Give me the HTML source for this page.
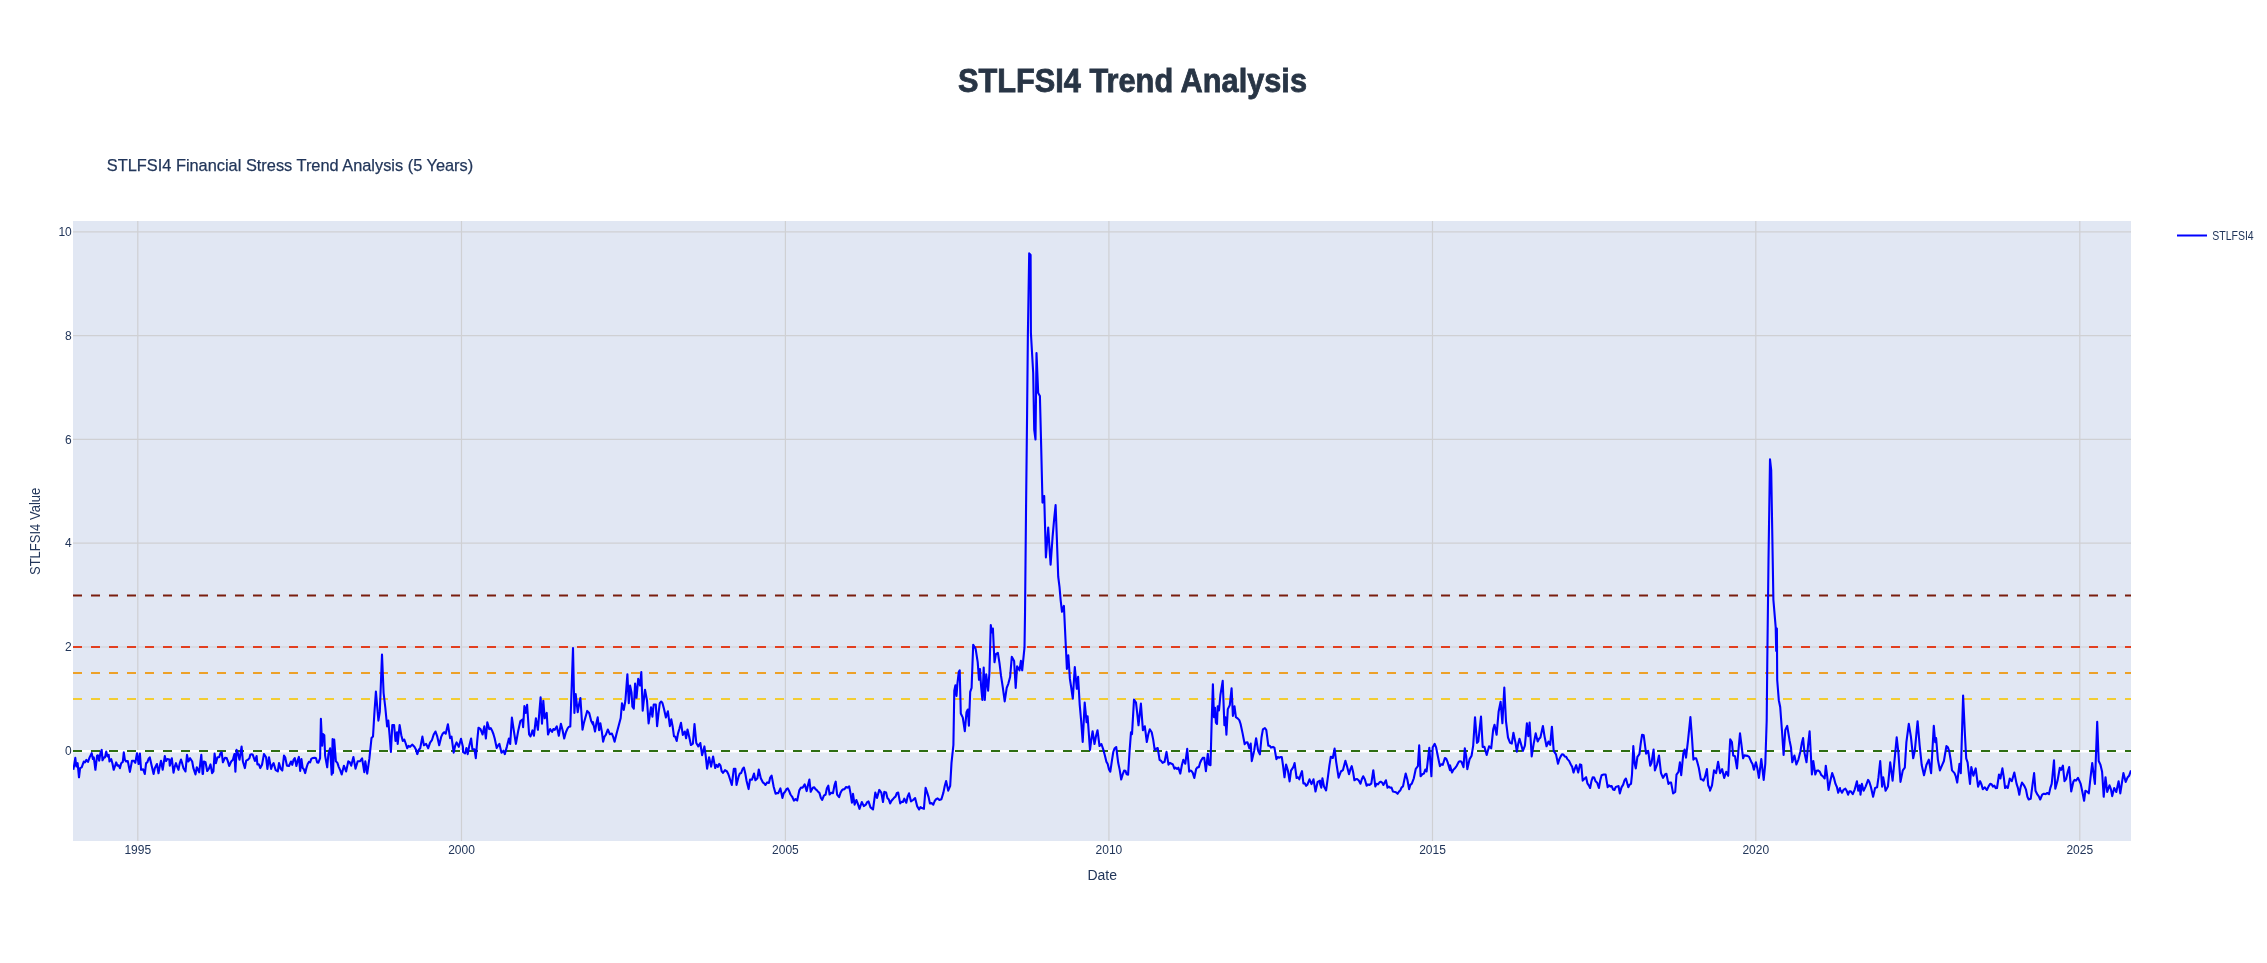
<!DOCTYPE html>
<html><head><meta charset="utf-8"><title>STLFSI4 Trend Analysis</title>
<style>
html,body{margin:0;padding:0;background:#ffffff;}
body{width:2267px;height:963px;overflow:hidden;}
svg{display:block;font-family:"Liberation Sans", sans-serif;will-change:transform;}
</style></head>
<body>
<svg width="2267" height="963" viewBox="0 0 2267 963">
<rect x="73" y="221" width="2058" height="620" fill="#E1E7F3"/>
<line x1="137.8" y1="221" x2="137.8" y2="841" stroke="#cfd0d3" stroke-width="1.2"/>
<line x1="461.5" y1="221" x2="461.5" y2="841" stroke="#cfd0d3" stroke-width="1.2"/>
<line x1="785.4" y1="221" x2="785.4" y2="841" stroke="#cfd0d3" stroke-width="1.2"/>
<line x1="1108.9" y1="221" x2="1108.9" y2="841" stroke="#cfd0d3" stroke-width="1.2"/>
<line x1="1432.5" y1="221" x2="1432.5" y2="841" stroke="#cfd0d3" stroke-width="1.2"/>
<line x1="1755.8" y1="221" x2="1755.8" y2="841" stroke="#cfd0d3" stroke-width="1.2"/>
<line x1="2079.8" y1="221" x2="2079.8" y2="841" stroke="#cfd0d3" stroke-width="1.2"/>
<line x1="73" y1="647.0" x2="2131" y2="647.0" stroke="#cfd0d3" stroke-width="1.2"/>
<line x1="73" y1="543.2" x2="2131" y2="543.2" stroke="#cfd0d3" stroke-width="1.2"/>
<line x1="73" y1="439.4" x2="2131" y2="439.4" stroke="#cfd0d3" stroke-width="1.2"/>
<line x1="73" y1="335.6" x2="2131" y2="335.6" stroke="#cfd0d3" stroke-width="1.2"/>
<line x1="73" y1="231.8" x2="2131" y2="231.8" stroke="#cfd0d3" stroke-width="1.2"/>
<line x1="73" y1="751.2" x2="2131" y2="751.2" stroke="#ffffff" stroke-width="2.4"/>
<line x1="73" y1="595.5" x2="2131" y2="595.5" stroke="#7a1e0e" stroke-width="2" stroke-dasharray="9,9"/>
<line x1="73" y1="647.0" x2="2131" y2="647.0" stroke="#e23f1f" stroke-width="2" stroke-dasharray="9,9"/>
<line x1="73" y1="672.9" x2="2131" y2="672.9" stroke="#eda128" stroke-width="2" stroke-dasharray="9,9"/>
<line x1="73" y1="698.9" x2="2131" y2="698.9" stroke="#f3cd32" stroke-width="2" stroke-dasharray="9,9"/>
<line x1="73" y1="751.1" x2="2131" y2="751.1" stroke="#2e6e12" stroke-width="2" stroke-dasharray="9,9"/>
<clipPath id="cp"><rect x="73" y="221" width="2058" height="620"/></clipPath>
<polyline clip-path="url(#cp)" points="73.3,769.8 73.8,767.3 75.3,757.8 76.3,766.5 77.6,763.2 79.0,777.3 80.1,768.2 81.7,767.3 83.8,761.5 85.0,762.4 86.3,759.9 88.0,761.9 89.6,757.4 91.7,753.2 92.9,759.0 93.8,757.4 95.4,769.8 97.1,755.7 97.9,755.3 99.2,760.7 100.4,753.2 101.7,749.9 102.5,760.3 104.1,757.4 105.0,757.4 106.2,751.6 107.5,756.5 108.7,754.9 109.5,761.5 111.2,759.0 112.5,763.8 113.7,769.8 114.9,766.5 116.2,762.4 117.4,765.7 118.7,765.3 119.9,768.2 121.2,763.2 122.8,761.9 123.8,752.4 124.9,759.9 126.2,761.5 127.8,761.1 129.9,771.9 132.0,760.7 133.6,760.7 135.3,762.8 137.0,753.2 138.6,764.0 139.9,753.6 141.1,769.8 143.2,769.4 144.8,774.0 146.1,763.2 147.3,762.4 148.6,758.8 149.8,757.4 151.5,764.9 153.6,774.0 154.8,768.2 156.9,764.0 158.5,773.2 159.8,766.1 161.0,760.7 162.7,769.8 164.8,756.1 166.0,761.1 167.3,759.0 169.3,759.5 169.8,765.7 171.8,758.2 173.5,772.7 174.7,766.8 176.0,763.2 177.2,766.9 178.5,769.8 179.7,763.4 181.0,759.5 182.2,763.4 183.5,768.2 185.5,771.5 187.0,754.9 188.4,761.5 190.1,758.2 192.2,761.5 193.4,768.2 195.5,774.4 196.8,767.3 198.0,769.5 199.2,772.3 201.3,754.9 202.6,774.0 203.0,773.9 203.8,761.5 205.5,762.3 207.2,771.0 208.8,768.9 210.5,764.4 212.1,773.1 213.4,771.4 214.6,753.6 215.9,763.1 217.5,757.3 219.2,757.3 220.4,753.3 221.7,752.3 222.9,762.3 225.0,757.7 226.7,758.1 227.9,761.4 229.2,766.0 231.2,761.5 232.9,759.8 234.4,754.0 235.4,771.8 236.6,749.8 237.9,753.2 239.5,759.8 241.6,746.5 242.9,761.5 244.9,768.1 246.2,760.6 247.9,759.8 249.5,758.1 250.3,754.8 251.6,754.2 252.8,754.8 254.9,761.0 256.6,756.1 257.4,764.4 258.9,764.4 260.3,768.1 262.0,764.8 264.0,754.0 266.1,757.3 267.4,768.9 269.0,757.3 271.1,768.9 272.4,765.0 273.6,763.1 275.7,770.2 277.8,771.4 279.0,763.1 280.7,768.9 282.3,770.6 284.0,755.6 285.2,757.3 286.9,765.6 289.0,766.0 291.0,761.5 292.3,764.8 293.5,759.9 294.8,758.1 296.4,766.0 297.7,760.4 298.9,756.9 300.2,771.0 301.4,759.0 302.7,768.1 303.9,769.3 305.2,773.1 306.4,768.0 307.7,764.0 308.9,761.9 310.1,762.3 311.4,758.6 312.6,758.1 314.7,757.7 316.0,758.3 317.2,762.5 318.4,762.7 320.1,758.1 320.9,718.7 322.2,745.7 323.0,734.1 324.3,735.3 325.1,755.6 327.2,767.3 328.4,754.0 330.1,748.2 331.7,774.8 332.6,739.0 333.0,773.0 334.2,739.5 335.9,761.3 337.4,762.9 338.8,767.1 340.3,770.4 341.7,774.4 343.9,765.7 346.1,771.5 348.3,761.3 349.7,762.1 351.2,765.7 353.4,757.0 355.5,768.6 357.7,761.3 359.9,761.3 362.1,758.4 364.3,772.2 365.3,761.3 367.2,773.7 369.4,758.4 371.5,738.1 373.0,736.6 374.4,712.9 375.9,691.5 378.4,720.6 379.8,711.9 382.0,654.5 383.6,693.0 385.3,707.5 387.1,726.4 388.3,720.6 389.6,735.5 390.9,751.9 392.3,725.0 394.1,725.0 395.5,741.0 397.0,732.2 397.7,743.9 399.6,725.0 401.3,735.2 402.8,741.0 404.3,739.5 405.7,743.5 407.2,748.2 408.6,745.9 410.1,746.8 412.2,744.6 414.4,746.8 415.9,749.4 417.3,754.1 418.8,749.8 420.2,748.2 422.4,736.6 423.9,745.3 426.1,743.9 428.2,748.2 430.1,742.6 431.9,740.2 433.7,734.5 435.5,731.5 437.3,736.7 439.2,745.3 441.3,736.6 442.8,733.5 444.2,732.2 445.7,733.7 447.9,724.2 450.1,738.1 451.5,736.6 453.7,752.6 455.1,746.0 456.6,742.4 458.8,746.8 461.0,738.8 462.9,746.8 463.0,752.0 465.0,753.4 466.4,748.0 467.7,754.1 469.4,745.3 471.1,738.5 472.4,749.3 474.5,749.3 475.8,758.1 477.2,741.2 478.5,727.7 480.5,729.1 482.6,734.5 484.3,726.4 485.9,738.5 487.3,722.3 489.3,729.1 490.7,728.1 492.0,730.4 493.4,734.0 494.7,738.5 496.7,748.0 498.1,745.5 499.4,743.9 501.5,752.7 503.5,750.7 504.8,754.1 506.9,746.6 508.9,738.5 510.2,743.9 511.9,717.6 514.0,731.8 515.9,743.9 518.3,730.4 520.4,721.0 522.4,719.6 523.1,727.1 524.4,706.1 525.8,712.9 527.1,704.8 529.1,734.5 530.5,736.5 532.5,730.4 533.9,735.8 535.9,718.3 537.9,729.8 539.3,712.9 540.6,697.4 542.0,723.7 543.3,700.7 544.7,718.3 546.7,712.9 548.0,734.5 550.1,729.1 552.1,731.8 553.4,729.0 554.8,729.8 556.8,726.4 558.8,735.8 560.9,723.7 562.6,730.2 564.2,738.5 565.9,732.2 567.6,728.4 569.0,726.7 570.3,726.4 571.7,686.2 573.0,648.1 574.4,712.9 575.7,694.0 577.7,712.2 579.1,704.3 580.4,698.0 582.5,729.8 583.8,723.2 585.2,718.3 587.2,710.9 589.2,712.9 591.2,721.0 593.0,724.4 593.0,722.1 595.0,731.5 596.4,723.3 597.7,717.4 599.1,730.2 600.4,723.4 601.8,731.4 603.1,741.7 604.5,736.6 605.8,734.9 607.8,729.5 609.9,734.2 611.9,733.6 613.2,736.9 614.6,741.7 616.6,733.6 618.6,726.1 620.7,718.0 622.0,703.2 623.8,709.9 625.4,700.5 627.4,674.2 628.8,703.2 630.1,685.6 631.5,692.4 632.4,706.6 633.8,708.6 635.1,683.6 636.5,697.8 638.2,678.9 640.0,685.6 641.3,672.1 642.7,710.6 645.0,689.7 647.0,700.5 648.6,723.4 651.0,707.2 652.4,716.7 653.7,704.5 655.8,704.5 657.1,726.1 658.5,713.3 659.8,703.2 661.2,701.5 662.5,703.2 663.9,708.6 665.9,717.4 667.9,711.3 669.9,726.1 671.3,719.4 672.6,726.2 674.0,736.3 675.3,736.8 676.7,741.0 678.0,733.6 679.4,728.8 681.0,722.8 682.8,734.9 684.8,731.5 686.1,738.3 687.5,729.5 689.2,736.7 690.9,745.0 692.9,743.7 694.5,724.1 696.3,743.0 698.3,746.4 700.3,743.0 702.1,755.2 704.4,746.4 705.7,755.9 707.1,768.7 709.1,757.2 711.1,766.6 713.1,756.5 715.2,768.0 716.5,764.9 717.9,766.9 719.2,763.9 720.5,765.7 721.7,771.2 723.0,772.7 723.0,772.9 725.0,770.2 727.0,771.5 728.4,774.3 729.7,778.3 731.8,785.0 733.8,768.8 735.4,768.8 736.5,785.0 738.5,776.9 739.9,773.4 741.2,772.9 742.6,769.0 743.9,767.5 745.3,773.5 746.6,781.0 748.6,789.1 750.0,779.6 752.0,779.6 754.0,773.6 755.4,780.3 757.4,778.3 758.8,769.5 760.8,778.3 762.8,782.3 764.2,783.3 765.5,785.0 767.2,782.4 768.9,783.0 770.2,777.5 771.6,775.6 773.6,786.4 775.6,793.8 777.0,793.0 778.3,793.1 780.4,788.4 782.4,797.9 783.7,793.3 785.1,791.8 786.4,789.2 787.8,788.4 789.1,790.9 790.5,794.5 792.2,796.8 793.9,800.6 795.6,799.1 797.2,800.6 799.3,790.4 801.0,787.5 802.6,787.7 804.7,784.4 806.7,791.1 808.0,785.0 809.4,779.6 810.7,791.8 812.8,787.7 814.1,787.2 815.5,789.1 816.8,790.1 818.2,791.8 819.5,793.1 820.9,798.0 822.2,799.9 823.9,795.6 825.6,794.5 826.9,788.3 828.3,785.7 829.6,794.5 831.3,792.8 833.0,793.1 834.4,785.6 835.7,781.7 837.1,794.5 839.1,797.2 840.4,793.1 841.8,790.4 843.1,789.4 844.5,789.1 846.1,787.0 847.6,787.6 849.2,786.4 850.6,793.9 851.9,802.6 853.0,799.9 853.0,793.9 854.6,804.7 856.4,800.0 857.7,803.4 859.5,808.8 861.8,802.0 863.8,806.1 865.8,804.7 867.2,802.1 868.5,801.4 870.5,807.4 873.0,809.5 875.3,792.6 877.0,798.0 879.3,789.9 881.3,792.6 883.0,802.0 884.3,791.9 886.1,792.6 887.4,798.0 888.8,799.5 890.1,803.4 891.5,800.8 892.8,799.3 894.2,797.6 895.5,796.6 896.9,793.0 898.2,792.6 900.2,803.4 901.6,801.9 902.9,802.0 904.3,798.7 906.3,802.7 907.7,796.3 909.0,793.3 911.0,801.4 913.1,800.0 915.1,798.0 917.1,806.1 919.1,809.5 920.5,807.1 921.8,808.1 923.9,808.8 925.6,787.9 927.2,792.6 928.6,797.1 929.9,803.4 931.6,803.1 933.3,804.7 934.7,801.0 936.0,799.3 937.7,798.4 939.4,800.0 941.4,799.3 943.4,792.6 944.8,785.7 946.1,781.1 948.2,790.6 950.2,785.8 951.5,762.9 953.4,745.0 954.3,690.6 955.4,685.2 956.5,696.0 957.4,683.8 958.8,671.7 959.7,670.3 960.8,713.5 962.8,717.6 964.8,731.1 966.5,712.2 967.8,709.5 968.9,725.7 970.2,691.9 971.6,687.9 973.2,644.7 975.6,648.7 977.7,662.2 979.0,679.8 980.0,669.0 981.0,685.2 982.4,700.0 983.7,667.6 984.8,700.0 986.2,674.4 988.1,690.6 989.4,673.0 990.8,625.1 991.8,632.5 992.9,628.5 994.5,662.2 995.9,654.1 997.9,652.8 999.5,663.1 1001.0,675.7 1002.8,687.3 1004.7,701.4 1006.7,687.9 1008.3,683.8 1010.1,677.1 1011.8,656.8 1014.1,660.9 1015.7,687.9 1017.1,666.3 1019.5,670.3 1020.9,660.9 1022.2,670.3 1024.5,647.4 1025.0,615.0 1026.0,512.6 1027.1,412.9 1027.9,333.0 1029.2,253.3 1030.6,255.0 1030.9,333.0 1033.2,373.0 1034.2,429.5 1035.5,439.5 1036.5,353.0 1038.2,393.0 1039.9,396.0 1041.2,447.6 1042.5,502.6 1044.2,496.0 1045.9,557.5 1048.2,527.6 1050.6,564.8 1052.6,536.6 1054.1,519.7 1055.6,505.0 1056.9,539.8 1058.2,576.5 1059.5,586.9 1060.7,600.7 1062.0,611.8 1063.9,605.9 1065.5,639.5 1066.9,669.0 1068.3,655.2 1069.9,678.9 1071.3,688.0 1072.8,698.6 1074.8,667.1 1076.8,688.8 1078.1,676.9 1079.7,704.6 1081.2,721.5 1082.7,742.0 1084.7,702.6 1086.6,722.3 1087.6,716.4 1090.0,749.9 1091.3,739.5 1092.6,731.2 1094.5,744.0 1096.0,736.0 1097.5,730.2 1099.5,746.0 1101.4,744.0 1103.4,749.9 1104.9,755.5 1106.4,761.8 1107.7,764.1 1109.0,769.5 1110.3,771.6 1111.8,761.4 1113.3,751.9 1114.7,748.2 1116.2,747.0 1118.2,762.8 1119.7,769.9 1121.2,779.5 1122.6,774.7 1124.1,770.6 1125.4,770.7 1126.7,774.3 1128.1,774.6 1129.5,752.1 1131.0,732.2 1132.0,734.1 1134.0,699.6 1136.0,702.6 1137.2,713.1 1138.5,725.3 1140.9,703.6 1142.9,730.2 1144.8,726.3 1146.8,742.0 1148.3,734.3 1149.8,729.2 1151.7,732.2 1153.2,739.6 1154.7,749.9 1156.2,748.6 1157.7,748.0 1159.6,759.8 1161.1,760.9 1162.6,762.8 1164.6,761.8 1166.5,751.9 1168.5,764.7 1170.0,762.9 1171.5,763.7 1172.9,764.5 1174.4,768.7 1175.7,767.7 1177.1,769.0 1178.4,767.7 1180.3,773.6 1181.8,765.5 1183.3,759.8 1185.3,763.7 1187.2,748.9 1189.2,771.6 1190.0,770.6 1191.3,770.8 1192.7,772.6 1194.3,778.0 1196.1,769.2 1197.4,767.4 1198.8,767.2 1200.1,762.7 1201.5,759.8 1202.8,757.9 1204.2,757.7 1205.9,771.2 1207.8,753.7 1208.9,764.5 1210.5,765.2 1211.6,724.0 1212.9,684.2 1214.0,717.2 1215.0,707.8 1215.9,722.6 1217.0,724.0 1217.7,706.4 1219.0,710.5 1220.4,695.0 1222.7,680.8 1224.4,725.3 1225.4,717.2 1226.4,734.8 1227.8,709.1 1229.8,705.1 1231.6,688.2 1232.9,715.9 1234.5,706.4 1235.9,717.2 1237.9,718.6 1239.3,720.1 1240.6,724.0 1242.6,733.4 1244.7,744.2 1246.0,742.5 1247.4,742.2 1249.4,748.3 1250.7,743.6 1251.8,761.1 1254.1,751.0 1256.1,738.2 1258.2,751.0 1259.9,754.4 1261.5,737.5 1262.9,729.4 1264.9,728.0 1266.3,730.1 1268.3,745.6 1269.6,745.7 1271.0,747.6 1273.0,746.9 1274.4,747.6 1276.4,759.1 1277.7,757.0 1279.1,757.7 1280.4,757.1 1281.8,757.1 1283.1,766.0 1284.5,777.3 1286.1,764.5 1287.9,770.6 1289.6,781.4 1291.0,770.6 1293.3,767.2 1294.6,763.1 1296.6,778.0 1298.0,777.3 1299.3,779.3 1300.7,774.5 1302.0,771.2 1303.4,783.4 1304.7,783.2 1306.1,785.8 1307.4,784.7 1309.5,779.3 1311.5,784.1 1313.5,779.3 1315.5,791.5 1317.6,782.0 1320.0,780.7 1320.0,783.7 1321.3,787.7 1322.4,778.3 1324.0,786.4 1326.1,790.4 1328.1,775.6 1329.4,765.5 1330.8,756.7 1332.8,758.0 1334.6,748.6 1336.2,762.1 1338.6,777.6 1340.9,771.5 1342.9,770.2 1345.4,760.7 1347.2,766.9 1349.0,774.2 1350.4,769.2 1351.7,766.1 1353.1,771.9 1354.4,780.3 1355.8,779.2 1357.1,779.0 1358.8,780.5 1360.5,783.7 1361.8,779.2 1363.2,776.3 1364.9,779.4 1366.6,785.7 1367.9,784.4 1369.3,785.0 1371.3,783.7 1373.3,770.2 1375.3,786.4 1376.7,783.8 1378.0,784.4 1379.4,782.5 1380.7,781.7 1382.1,782.6 1383.4,785.0 1385.9,780.3 1387.5,787.7 1388.8,786.5 1390.2,787.7 1391.5,787.5 1392.9,791.4 1394.2,791.8 1395.9,792.2 1397.6,793.8 1399.0,791.6 1400.3,790.4 1401.7,787.3 1403.0,786.4 1404.4,779.4 1405.7,773.6 1407.4,779.8 1409.1,789.1 1410.4,784.8 1411.8,783.7 1413.8,778.3 1415.8,768.8 1417.9,766.1 1419.2,745.2 1420.6,776.3 1422.3,774.3 1423.9,773.6 1425.3,769.5 1426.6,771.5 1428.0,759.0 1429.3,747.9 1431.4,776.3 1432.7,747.2 1434.7,743.9 1436.1,747.4 1437.4,754.0 1439.9,766.1 1441.4,764.2 1442.8,764.8 1444.9,758.0 1446.2,758.6 1447.6,762.1 1450.0,770.2 1450.0,765.2 1452.0,772.6 1453.4,769.7 1454.7,768.5 1456.7,765.8 1458.8,761.8 1460.1,761.3 1461.5,761.8 1463.5,767.2 1464.8,748.3 1466.2,756.4 1467.3,769.2 1469.6,759.1 1471.6,755.7 1473.2,745.6 1475.0,717.2 1477.0,742.9 1478.3,741.5 1479.7,728.3 1481.0,716.6 1482.7,746.9 1484.4,746.9 1486.7,755.0 1489.1,746.3 1491.2,748.3 1493.2,729.4 1494.5,724.7 1496.6,734.8 1498.6,711.8 1500.6,701.7 1502.4,723.3 1504.3,687.5 1506.0,721.3 1508.0,737.5 1510.1,742.9 1511.8,743.6 1513.4,732.8 1515.5,742.9 1516.8,751.7 1518.2,743.8 1519.5,738.8 1520.9,743.6 1522.9,751.0 1524.9,745.6 1526.9,723.3 1528.3,736.1 1529.6,722.6 1531.7,756.4 1533.7,743.6 1535.7,733.4 1537.7,741.5 1539.1,738.8 1540.4,737.5 1542.9,726.0 1544.5,736.1 1546.5,746.3 1548.5,741.5 1550.2,744.9 1551.9,726.7 1553.7,751.0 1556.0,754.4 1558.0,763.8 1559.3,759.3 1560.7,756.4 1562.0,754.4 1563.4,754.5 1564.7,756.4 1566.1,756.8 1567.4,759.1 1569.1,760.9 1570.8,764.5 1572.2,766.9 1573.5,772.6 1574.9,768.3 1576.2,765.2 1578.2,772.6 1580.0,764.5 1580.0,764.4 1581.3,765.0 1582.7,780.6 1584.7,778.5 1586.1,777.2 1587.4,783.3 1588.8,785.3 1590.1,788.0 1591.5,780.9 1592.8,777.2 1594.2,777.6 1595.5,781.2 1597.2,782.8 1598.9,788.0 1600.2,780.6 1601.6,775.2 1603.6,774.5 1605.6,774.5 1607.7,787.3 1609.0,785.3 1610.4,786.6 1611.7,786.1 1613.1,789.5 1614.4,790.0 1615.8,786.9 1617.1,786.6 1618.5,786.0 1619.8,793.4 1621.5,787.4 1623.2,784.6 1624.5,780.3 1625.9,778.5 1628.3,787.3 1629.7,784.6 1631.0,783.9 1632.0,774.5 1633.3,746.1 1634.7,763.7 1635.8,768.4 1637.4,756.9 1639.4,754.2 1640.7,743.7 1642.1,734.7 1643.7,735.3 1646.1,753.6 1648.2,750.9 1650.2,765.7 1651.5,763.0 1653.6,749.5 1654.9,770.4 1656.9,765.0 1659.0,755.6 1661.0,773.1 1663.0,777.9 1665.0,774.5 1666.4,773.8 1668.4,783.9 1669.8,782.6 1671.1,782.6 1673.1,793.4 1675.2,792.0 1676.5,774.5 1678.5,771.8 1679.9,762.3 1681.2,775.2 1683.3,753.6 1684.6,749.5 1686.0,757.6 1688.0,740.7 1690.4,717.1 1692.0,738.0 1693.4,759.6 1694.7,758.2 1696.1,758.3 1697.4,762.4 1698.8,767.7 1700.8,779.2 1702.2,779.5 1703.5,780.6 1704.9,777.2 1706.9,769.1 1708.2,785.3 1710.0,789.3 1710.0,790.7 1712.0,785.3 1714.0,770.4 1716.1,773.1 1718.1,761.7 1720.1,773.1 1722.1,769.1 1724.2,777.9 1726.2,771.8 1728.2,775.8 1730.2,739.4 1731.9,742.1 1733.2,755.6 1735.0,756.3 1737.0,768.4 1738.5,749.7 1740.0,733.3 1741.5,745.1 1743.1,758.3 1744.4,755.4 1745.8,755.6 1747.5,755.9 1749.1,756.9 1751.2,761.7 1752.5,764.1 1753.9,769.8 1755.9,762.3 1757.4,768.8 1758.9,777.9 1761.3,759.0 1763.7,779.9 1765.3,763.7 1766.7,720.5 1767.3,660.0 1768.5,560.0 1770.0,459.4 1771.2,470.0 1773.4,600.0 1775.7,627.4 1776.2,651.0 1776.9,628.5 1777.2,680.0 1778.8,700.2 1780.2,707.0 1782.2,734.0 1783.6,754.9 1785.3,729.9 1787.2,725.9 1789.6,740.7 1791.0,747.5 1792.3,762.3 1794.4,755.6 1796.4,764.4 1798.4,759.6 1800.4,751.5 1801.8,743.1 1803.1,738.0 1804.5,752.9 1806.5,762.3 1808.1,745.2 1809.6,731.3 1811.9,774.5 1813.3,761.0 1815.3,774.5 1816.6,770.8 1818.0,770.4 1819.7,771.6 1821.4,775.2 1823.1,776.5 1824.7,778.5 1825.8,765.7 1827.2,776.4 1828.5,790.0 1830.3,781.0 1832.2,773.1 1833.9,777.8 1835.5,783.9 1836.9,787.0 1838.2,792.7 1840.0,788.0 1840.0,789.3 1842.0,792.7 1843.7,789.6 1845.4,788.7 1846.7,790.8 1848.1,794.7 1849.4,791.3 1850.8,791.4 1852.8,794.1 1854.8,789.3 1856.9,781.2 1858.2,790.7 1859.6,785.3 1860.5,794.7 1861.9,783.9 1863.6,790.7 1865.6,786.6 1868.1,779.9 1869.4,782.0 1870.8,786.6 1873.1,796.8 1875.1,788.0 1877.1,787.3 1878.5,777.2 1880.2,761.0 1882.1,786.6 1883.2,777.2 1885.6,790.7 1887.9,786.6 1890.2,762.3 1892.6,780.6 1894.7,758.3 1896.7,737.4 1898.3,751.5 1900.5,781.9 1902.8,770.4 1904.8,767.7 1906.4,742.1 1908.8,723.9 1910.9,736.7 1913.2,758.3 1914.9,750.2 1916.3,734.9 1917.6,721.2 1919.6,744.8 1921.7,765.0 1924.0,775.2 1926.4,765.0 1928.8,759.6 1931.1,773.1 1932.5,748.8 1933.8,725.9 1935.2,742.1 1936.1,738.0 1937.9,759.6 1939.9,770.4 1941.9,765.7 1943.9,761.0 1946.4,746.1 1947.9,747.3 1949.3,751.5 1950.7,760.0 1952.0,770.4 1954.5,773.1 1955.8,776.4 1957.2,782.6 1959.5,763.7 1960.8,773.1 1963.1,695.5 1964.9,734.0 1966.2,758.3 1967.6,762.3 1970.0,783.9 1970.0,783.9 1971.3,767.1 1973.4,775.8 1975.7,768.4 1978.1,786.6 1980.1,781.2 1981.5,784.5 1982.8,789.3 1984.8,787.3 1986.9,790.0 1988.6,786.4 1990.2,783.9 1991.6,784.2 1992.9,786.6 1994.3,785.6 1995.6,788.1 1997.0,788.0 1999.0,774.5 2000.4,778.5 2002.4,768.4 2003.7,776.7 2005.1,788.0 2006.4,786.3 2007.8,788.0 2009.8,778.5 2011.8,781.2 2014.3,772.5 2016.6,783.9 2017.9,787.8 2019.3,794.7 2020.6,787.1 2022.0,782.6 2023.3,784.3 2024.7,786.6 2026.0,789.7 2027.4,796.8 2028.7,799.5 2030.7,798.8 2032.4,785.6 2034.1,773.1 2035.5,790.7 2037.5,794.7 2038.8,796.4 2040.2,799.5 2042.2,794.7 2043.9,793.7 2045.6,794.1 2047.3,793.0 2049.0,794.1 2050.3,788.1 2051.7,783.9 2054.0,760.3 2055.3,788.7 2057.7,779.9 2059.8,767.7 2061.1,769.8 2062.9,765.7 2064.5,781.2 2066.1,779.2 2067.7,772.1 2069.2,767.1 2071.2,791.4 2073.3,781.9 2074.6,779.8 2076.0,780.6 2078.0,777.9 2079.3,780.6 2080.7,783.9 2082.4,792.0 2084.1,800.8 2085.4,790.7 2087.1,791.6 2088.8,793.4 2090.5,777.7 2092.2,763.0 2093.5,773.1 2094.9,783.9 2097.2,721.8 2098.7,761.0 2100.4,764.6 2102.1,771.8 2103.7,796.8 2105.5,777.2 2107.2,792.0 2109.5,785.3 2110.9,789.1 2112.2,796.1 2114.2,788.0 2116.3,792.0 2118.6,781.2 2120.3,793.4 2121.9,782.8 2123.4,773.1 2125.7,781.9 2127.7,777.2 2129.1,775.8 2131.0,770.4" fill="none" stroke="#0000ff" stroke-width="2.1" stroke-linejoin="round"/>
<text x="71.8" y="755.0" text-anchor="end" font-size="12" fill="#22365a">0</text>
<text x="71.8" y="651.2" text-anchor="end" font-size="12" fill="#22365a">2</text>
<text x="71.8" y="547.4" text-anchor="end" font-size="12" fill="#22365a">4</text>
<text x="71.8" y="443.6" text-anchor="end" font-size="12" fill="#22365a">6</text>
<text x="71.8" y="339.8" text-anchor="end" font-size="12" fill="#22365a">8</text>
<text x="71.8" y="236.0" text-anchor="end" font-size="12" fill="#22365a">10</text>
<text x="137.8" y="854.4" text-anchor="middle" font-size="12" fill="#22365a">1995</text>
<text x="461.5" y="854.4" text-anchor="middle" font-size="12" fill="#22365a">2000</text>
<text x="785.4" y="854.4" text-anchor="middle" font-size="12" fill="#22365a">2005</text>
<text x="1108.9" y="854.4" text-anchor="middle" font-size="12" fill="#22365a">2010</text>
<text x="1432.5" y="854.4" text-anchor="middle" font-size="12" fill="#22365a">2015</text>
<text x="1755.8" y="854.4" text-anchor="middle" font-size="12" fill="#22365a">2020</text>
<text x="2079.8" y="854.4" text-anchor="middle" font-size="12" fill="#22365a">2025</text>
<text x="1102.2" y="879.9" text-anchor="middle" font-size="14" fill="#22365a">Date</text>
<text transform="translate(39.7,531.4) rotate(-90)" x="0" y="0" text-anchor="middle" font-size="14" fill="#22365a" textLength="87.3" lengthAdjust="spacingAndGlyphs">STLFSI4 Value</text>
<text x="106.8" y="171" font-size="17" fill="#22365a" stroke="#22365a" stroke-width="0.25" textLength="366.4" lengthAdjust="spacingAndGlyphs">STLFSI4 Financial Stress Trend Analysis (5 Years)</text>
<line x1="2177" y1="235.5" x2="2207" y2="235.5" stroke="#0000ff" stroke-width="2"/>
<text x="2212.3" y="240.1" font-size="12" fill="#22365a" textLength="41.4" lengthAdjust="spacingAndGlyphs">STLFSI4</text>
<text x="1132.5" y="91.8" text-anchor="middle" font-size="32.5" font-weight="bold" fill="#283545" stroke="#283545" stroke-width="0.8" textLength="349" lengthAdjust="spacingAndGlyphs">STLFSI4 Trend Analysis</text>
</svg>
</body></html>
